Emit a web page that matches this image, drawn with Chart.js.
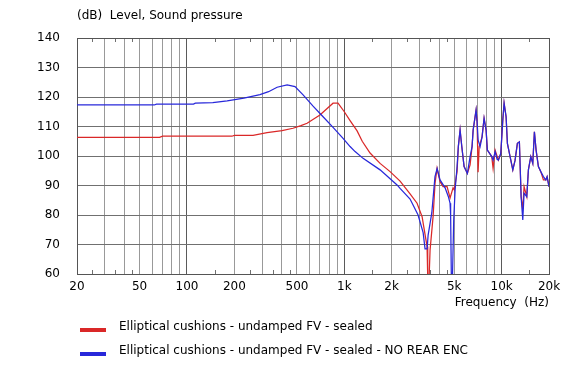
<!DOCTYPE html>
<html>
<head>
<meta charset="utf-8">
<script src="https://cdn.jsdelivr.net/npm/chart.js@4.4.1/dist/chart.umd.min.js"></script>
<style>
html, body { margin:0; padding:0; background:#fff; }
</style>
</head>
<body>
<canvas id="fr" width="578" height="390"></canvas>
<script>
// sealed
var freqRed = [20,67,70,193,200,263,323,402,472,530,580,700,848,912,1000,1088,1206,1300,1458,1688,1954,2262,2618,2900,3122,3200,3358,3390,3460,3508,3666,3774,3886,4060,4244,4500,4702,4912,5000,5208,5306,5444,5580,5772,6058,6302,6488,6590,6880,6982,7084,7200,7512,7734,7966,8114,8654,8826,9088,9538,9878,10172,10366,10674,10878,11316,11776,12176,12592,12966,13300,13626,13888,14448,14794,15322,15778,16152,16558,17126,17740,18428,19088,19450,20000];
var levelRed = [106.3,106.3,106.7,106.7,107,107,107.9,108.6,109.4,110.3,111.1,113.9,117.9,117.9,115,112,108.5,105,101,97.5,94.7,91.5,87.2,84,79.4,76,69.3,59,59,68.1,79.4,90.8,95.8,91.3,89.6,89.6,85.8,89.2,88.5,94.7,103.2,108.8,103.2,96.4,94.1,97,103.2,108.8,115.6,111.6,94.5,103.2,106.5,112.8,108.8,102,99.8,95.8,102,98.6,100.9,112.2,117.9,113.3,104.3,99.8,95.3,98.6,104.3,104.8,86.2,82,89.6,86.2,95.3,99.8,97.5,108.2,102,96.4,94.7,91.9,91.9,93,89.6];

// sealed - no rear enclosure
var freqBlue = [20,62,64,110,113,146,180,230,291,330,374,433,486,547,633,733,848,982,1088,1171,1316,1688,2164,2262,2618,2944,3170,3260,3360,3410,3598,3770,3890,4060,4371,4586,4700,4740,4790,4870,4960,5060,5210,5306,5444,5582,5772,6058,6302,6488,6590,6880,6982,7090,7300,7510,7734,7966,8114,8654,8826,9088,9358,9538,9878,10172,10366,10674,10878,11316,11776,12176,12592,12966,13300,13626,13888,14448,14794,15322,15778,16152,16558,17126,17740,18428,19088,19450,20000];
var levelBlue = [117.3,117.3,117.6,117.6,117.9,118.1,118.7,119.6,120.8,121.8,123.3,124.1,123.5,120.7,116.9,113.3,109.7,106,103.2,101.5,99.2,95.3,90.2,89,85.4,80,74,68.5,68.5,73.2,80.7,93,95.8,91.9,89.2,86.2,84,80,59,59,78.3,88.5,96.4,103.2,108.8,103.2,96.4,94.1,99.8,103.2,108.8,115.6,111.6,105.4,103.2,106.5,112.8,108.8,102,99.8,98.6,101.5,98.9,98.6,100.9,112.2,117.9,113.3,104.3,99.8,95.3,98.6,104.3,104.8,86.2,78.3,87.4,86.2,95.3,99.8,97.5,108.2,102,96.4,94.7,93,91.9,93,89.6];

var seriesNames = ['Elliptical cushions - undamped FV - sealed', 'Elliptical cushions - undamped FV - sealed - NO REAR ENC'];
var seriesColors = ['rgb(218,40,40)', 'rgb(40,40,218)'];

var yTicks = [60,70,80,90,100,110,120,130,140];
var xGrid = [20,30,40,50,60,70,80,90,100,200,300,400,500,600,700,800,900,1000,2000,3000,4000,5000,6000,7000,8000,9000,10000,20000];
var xDecades = [100,1000,10000];
var xLabelVals = [20,50,100,200,500,1000,2000,5000,10000,20000];
var xLabelTxt = ['20','50','100','200','500','1k','2k','5k','10k','20k'];
var xMinor = [25,35,45,150,250,350,450,1500,2500,3500,4500,15000];

var FONT = 'DejaVu Sans';

function pts(fx, ly) {
    var out = [];
    for (var i = 0; i < fx.length; i++) out.push({x: fx[i], y: ly[i]});
    return out;
}

var decor = {
    id: 'decor',
    beforeDatasetsDraw: function (chart) {
        var c = chart.ctx, a = chart.chartArea, xs = chart.scales.x;
        c.save();
        c.strokeStyle = '#707070';
        c.lineWidth = 1;
        c.beginPath();
        xMinor.forEach(function (v) {
            var px = Math.round(xs.getPixelForValue(v)) + 0.5;
            c.moveTo(px, a.top); c.lineTo(px, a.top + 4);
            c.moveTo(px, a.bottom); c.lineTo(px, a.bottom - 4);
        });
        c.stroke();
        c.strokeStyle = '#555';
        c.strokeRect(Math.round(a.left) + 0.5, Math.round(a.top) + 0.5, Math.round(a.right - a.left), Math.round(a.bottom - a.top));
        c.restore();
    },
    afterDraw: function (chart) {
        var c = chart.ctx, a = chart.chartArea;
        c.save();
        c.font = '12px "' + FONT + '"';
        c.fillStyle = '#000';
        c.textBaseline = 'middle';
        c.textAlign = 'left';
        c.fillText('(dB)  Level, Sound pressure', a.left, 16);
        c.textAlign = 'right';
        c.fillText('Frequency  (Hz)', a.right, 303);
        c.textAlign = 'left';
        for (var i = 0; i < seriesNames.length; i++) {
            c.fillStyle = seriesColors[i];
            c.fillRect(80, 328 + i * 24, 26, 4);
            c.fillStyle = '#000';
            c.fillText(seriesNames[i], 119, 327 + i * 24);
        }
        c.restore();
    }
};

var chart = new Chart(document.getElementById('fr').getContext('2d'), {
    type: 'line',
    data: {
        datasets: [{
            label: seriesNames[0],
            data: pts(freqRed, levelRed),
            borderColor: seriesColors[0],
            borderWidth: 1.25,
            pointRadius: 0,
            tension: 0,
            fill: false,
            order: 2
        }, {
            label: seriesNames[1],
            data: pts(freqBlue, levelBlue),
            borderColor: seriesColors[1],
            borderWidth: 1.25,
            pointRadius: 0,
            tension: 0,
            fill: false,
            order: 1
        }]
    },
    options: {
        responsive: false,
        animation: false,
        devicePixelRatio: 1,
        layout: { padding: { left: 0, top: 38, right: 29, bottom: 76 } },
        plugins: { legend: { display: false }, tooltip: { enabled: false } },
        scales: {
            x: {
                type: 'logarithmic',
                min: 20,
                max: 20000,
                afterBuildTicks: function (s) { s.ticks = xGrid.map(function (v) { return {value: v}; }); },
                afterFit: function (s) { s.height = 40; },
                ticks: {
                    autoSkip: false,
                    maxRotation: 0,
                    padding: 6,
                    color: '#000',
                    font: { family: FONT, size: 12 },
                    callback: function (v) {
                        var i = xLabelVals.indexOf(v);
                        return i < 0 ? '' : xLabelTxt[i];
                    }
                },
                grid: {
                    drawTicks: false,
                    lineWidth: 1,
                    color: function (ctx) {
                        return (ctx.tick && xDecades.indexOf(ctx.tick.value) >= 0) ? '#5a5a5a' : '#999999';
                    }
                },
                border: { display: false }
            },
            y: {
                min: 60,
                max: 140,
                afterBuildTicks: function (s) { s.ticks = yTicks.map(function (v) { return {value: v}; }); },
                afterFit: function (s) { s.width = 77; },
                ticks: { padding: 17, color: '#000', font: { family: FONT, size: 12 } },
                grid: { drawTicks: false, lineWidth: 1, color: '#707070' },
                border: { display: false }
            }
        }
    },
    plugins: [decor]
});
</script>
</body>
</html>
